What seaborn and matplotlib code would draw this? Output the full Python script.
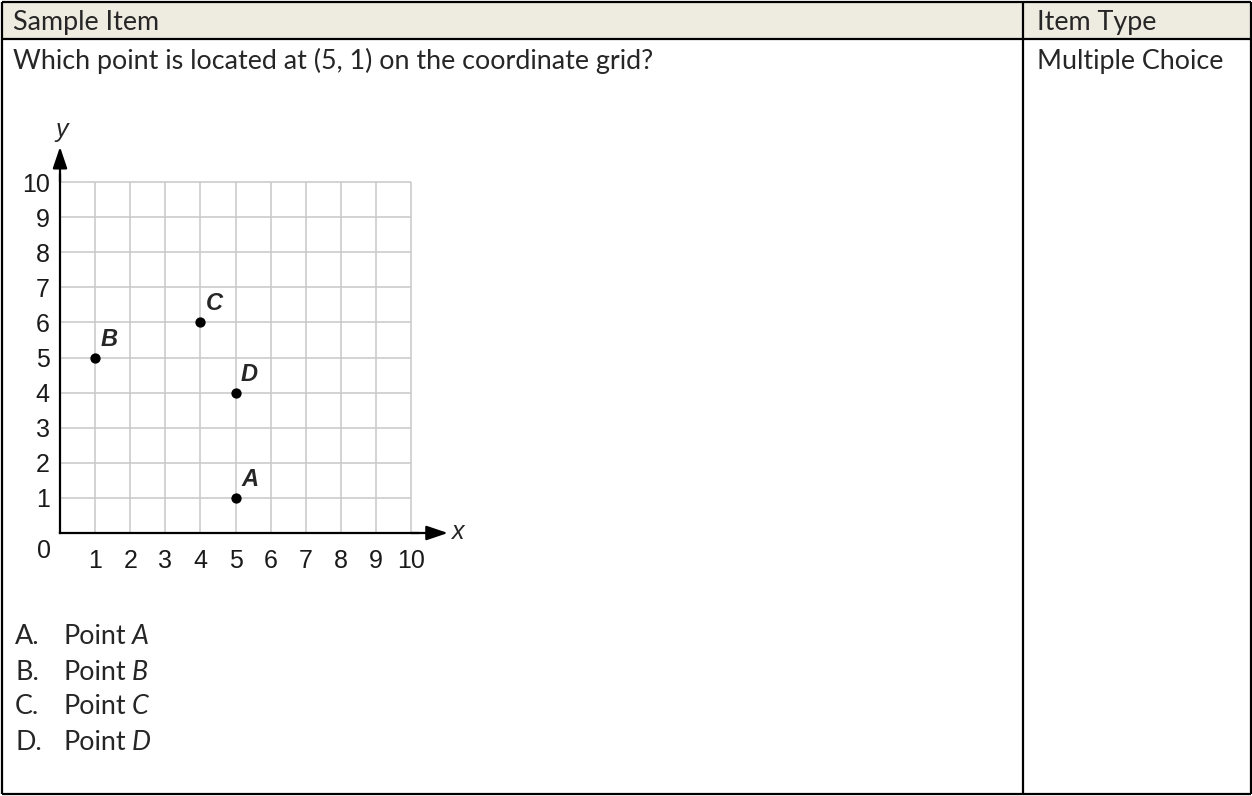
import matplotlib
matplotlib.use("Agg")
import matplotlib.pyplot as plt
import seaborn as sns
from matplotlib.patches import Rectangle

# --- data ---
point_names = ["A", "B", "C", "D"]
point_x = [5, 1, 4, 5]
point_y = [1, 5, 6, 4]
x_ticks = [1, 2, 3, 4, 5, 6, 7, 8, 9, 10]
y_ticks = [1, 2, 3, 4, 5, 6, 7, 8, 9, 10]
grid_vals = [1, 2, 3, 4, 5, 6, 7, 8, 9, 10]
choice_letters = ["A.", "B.", "C.", "D."]
choice_points = ["A", "B", "C", "D"]

question = "Which point is located at (5, 1) on the coordinate grid?"
header_left = "Sample Item"
header_right = "Item Type"
item_type = "Multiple Choice"

sns.set_style("white")
plt.rcParams['font.family'] = ['Lato', 'DejaVu Sans']

W, H = 1252, 796
fig = plt.figure(figsize=(W / 100, H / 100), dpi=100)

# table in pixel coordinates
bg = fig.add_axes([0, 0, 1, 1])
bg.set_xlim(0, W)
bg.set_ylim(H, 0)
bg.axis('off')
bg.add_patch(Rectangle((2, 2), 1248, 37, facecolor='#EEECE1', edgecolor='none'))
bg.hlines([2, 39, 793.5], 2, 1250.5, color='black', lw=1.6)
bg.vlines([2, 1022.7, 1250.5], 2, 793.5, color='black', lw=1.6)

txt_size = 19.4
bg.text(13, 30, header_left, fontsize=txt_size, va='baseline')
bg.text(1037, 30, header_right, fontsize=txt_size, va='baseline')
bg.text(13, 69, question, fontsize=txt_size, va='baseline')
bg.text(1037, 69, item_type, fontsize=txt_size, va='baseline')

fig.canvas.draw()
renderer = fig.canvas.get_renderer()
for i, (let, pt) in enumerate(zip(choice_letters, choice_points)):
    base = 644.5 + i * 35
    bg.text(15, base, let, fontsize=txt_size, va='baseline')
    t = bg.text(63, base, "Point", fontsize=txt_size, va='baseline')
    x_end = bg.transData.inverted().transform(t.get_window_extent(renderer))[1][0]
    bg.text(x_end + 6, base, pt, fontsize=txt_size, style='italic', va='baseline')

# coordinate grid
ox, oy, u = 60, 533, 35.1
xlo, xhi, ylo, yhi = -1.7, 11.8, -1.6, 11.8
left = ox + xlo * u
right = ox + xhi * u
bottom = oy - ylo * u
top = oy - yhi * u
ax = fig.add_axes([left / W, (H - bottom) / H, (right - left) / W, (bottom - top) / H])
ax.set_facecolor('none')

ax.vlines(grid_vals, 0, 10, color='#c8c8c8', lw=1.1, zorder=1)
ax.hlines(grid_vals, 0, 10, color='#c8c8c8', lw=1.1, zorder=1)

sns.scatterplot(x=point_x, y=point_y, color='black', s=55, linewidth=0,
                ax=ax, legend=False, zorder=5)
for name, px, py in zip(point_names, point_x, point_y):
    ax.annotate(name, (px, py), xytext=(4, 5), textcoords='offset points',
                fontsize=17, fontweight='bold', style='italic',
                family='Liberation Sans', ha='left', va='bottom')

for s in ['top', 'right']:
    ax.spines[s].set_visible(False)
ax.spines['left'].set_position(('data', 0))
ax.spines['bottom'].set_position(('data', 0))
ax.spines['left'].set_bounds(0, 10.2)
ax.spines['bottom'].set_bounds(0, 10.2)
for s in ['left', 'bottom']:
    ax.spines[s].set_linewidth(1.6)
    ax.spines[s].set_color('black')

arrow = dict(arrowstyle='-|>,head_length=0.65,head_width=0.22', color='black',
             lw=1.6, shrinkA=0, shrinkB=0, mutation_scale=20)
ax.annotate('', xy=(0, 11.0), xytext=(0, 10.0), arrowprops=arrow)
ax.annotate('', xy=(11.05, 0), xytext=(10.0, 0), arrowprops=arrow)

ax.set_xticks(x_ticks)
ax.set_yticks(y_ticks)
ax.tick_params(direction='inout', length=11, width=1.3, color='black',
               labelsize=18, labelcolor='#1a1a1a')
ax.tick_params(axis='x', pad=6)
ax.tick_params(axis='y', pad=2)
for lab in ax.get_xticklabels() + ax.get_yticklabels():
    lab.set_family('Liberation Sans')

ax.text(-0.45, -0.5, "0", fontsize=18, family='Liberation Sans',
        ha='center', va='center', color='#1a1a1a')
ax.text(0.06, 11.48, "y", fontsize=18, family='Liberation Sans', style='italic',
        ha='center', va='center')
ax.text(11.34, 0.03, "x", fontsize=18, family='Liberation Sans', style='italic',
        ha='center', va='center')

ax.set_xlabel('')
ax.set_ylabel('')
ax.set_xlim(xlo, xhi)
ax.set_ylim(ylo, yhi)

fig.savefig("out.png", dpi=100)
